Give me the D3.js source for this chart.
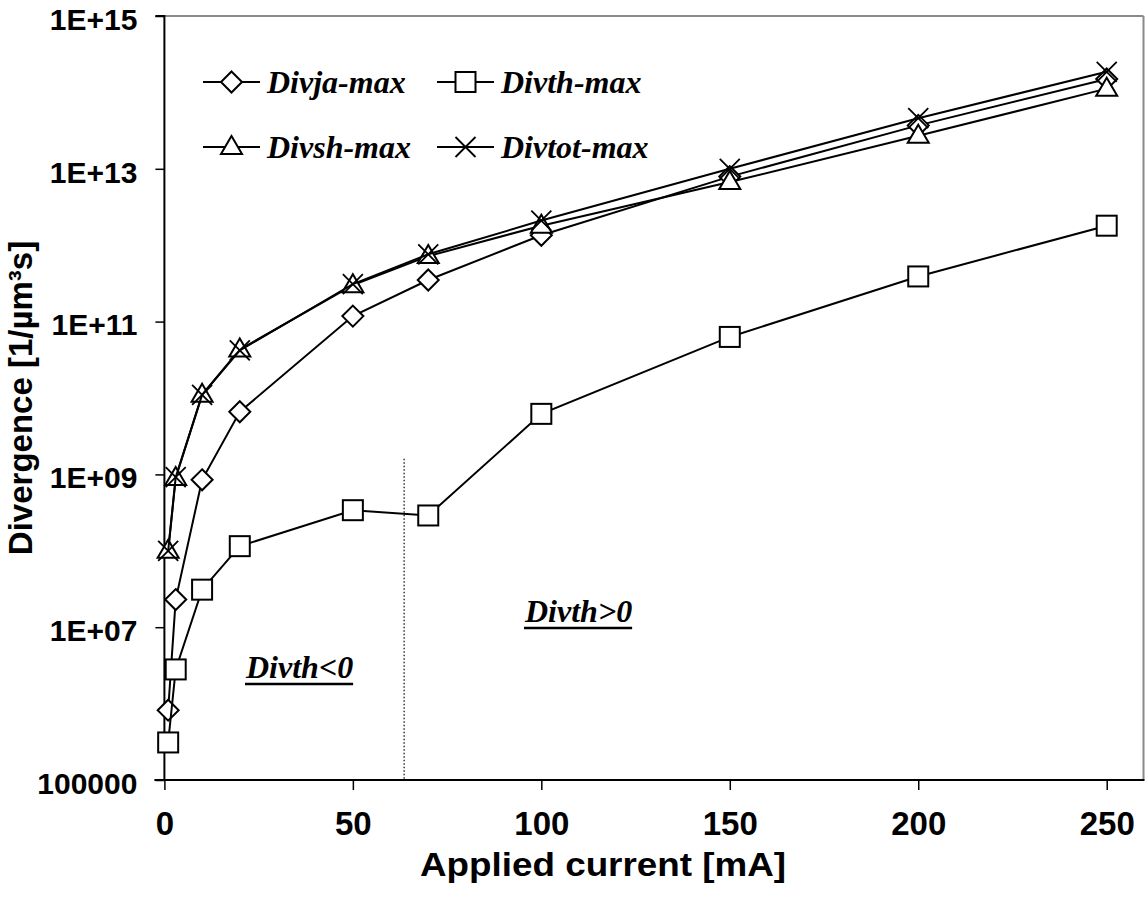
<!DOCTYPE html>
<html>
<head>
<meta charset="utf-8">
<script src="https://cdn.jsdelivr.net/npm/d3@7"></script>
<style>
  html, body { margin: 0; padding: 0; background: #fff; }
  svg { display: block; }
  .axis-text { font-family: "Liberation Sans", Arial, sans-serif; font-weight: bold; fill: #000; }
  .serif-text { font-family: "Liberation Serif", "Times New Roman", serif; font-weight: bold; font-style: italic; fill: #000; }
</style>
</head>
<body>
<script>
// Applied current (mA) at which each maximum divergence was computed
const current = [1, 3, 10, 20, 50, 70, 100, 150, 200, 250];

// Maximum divergence values, 1/(µm³·s)
const divJa  = [8.2e5, 2.3e7, 8.5e8, 6.6e9, 1.18e11, 3.5e11, 1.35e12, 7.9e12, 3.7e13, 1.5e14];
const divTh  = [3.1e5, 2.8e6, 3.1e7, 1.15e8, 3.4e8, 2.9e8, 6.2e9, 6.3e10, 3.9e11, 1.8e12];
const divSh  = [1.0e8, 9.0e8, 1.1e10, 4.3e10, 3.0e11, 7.2e11, 1.8e12, 6.7e12, 2.7e13, 1.12e14];
const divTot = [1.0e8, 9.2e8, 1.1e10, 4.2e10, 3.1e11, 7.6e11, 2.1e12, 1.0e13, 4.6e13, 1.86e14];

const seriesNames = ["Divja-max", "Divth-max", "Divsh-max", "Divtot-max"];
const seriesMarkers = ["diamond", "square", "triangle", "cross"];

const xTicks = [0, 50, 100, 150, 200, 250];
const yTicks = [1e5, 1e7, 1e9, 1e11, 1e13, 1e15];
const yTickLabels = ["100000", "1E+07", "1E+09", "1E+11", "1E+13", "1E+15"];

// Boundary between negative and positive thermal divergence
const signChangeCurrent = 63.6;
const signChangeTop = 1.6e9;

const W = 1145, H = 907;
const svg = d3.select("body").append("svg").attr("width", W).attr("height", H);

const x = d3.scaleLinear().domain([0, 260]).range([164.4, 1144.4]);
const y = d3.scaleLog().domain([1e5, 1e15]).range([780, 16]);

// Plot frame: grey top/right edges
svg.append("line").attr("x1", x(0)).attr("x2", 1143.5).attr("y1", y(1e15)).attr("y2", y(1e15))
  .attr("stroke", "#8a8a8a").attr("stroke-width", 2);
svg.append("line").attr("x1", 1143.5).attr("x2", 1143.5).attr("y1", y(1e15)).attr("y2", y(1e5))
  .attr("stroke", "#8a8a8a").attr("stroke-width", 2);

// Y axis
const yAxis = d3.axisLeft(y).tickValues(yTicks).tickSize(9).tickFormat((d, i) => yTickLabels[i]).tickPadding(18);
const gy = svg.append("g").attr("transform", `translate(${x(0)},0)`).call(yAxis);
gy.select(".domain").attr("stroke", "#000").attr("stroke-width", 2).attr("d", `M-9,${y(1e15)}H0V${y(1e5)}`);
gy.selectAll(".tick line").attr("stroke", "#000").attr("stroke-width", 1.5);
gy.selectAll(".tick text").attr("class", "axis-text").style("font-size", "30px")
  .attr("dy", "0.44em").attr("fill", "#000");

// X axis
const xAxis = d3.axisBottom(x).tickValues(xTicks).tickSize(10).tickFormat(d3.format("d")).tickPadding(22);
const gx = svg.append("g").attr("transform", `translate(0,${y(1e5)})`).call(xAxis);
gx.select(".domain").attr("stroke", "#000").attr("stroke-width", 2).attr("d", `M${x(0) - 10},0H1144.5`);
gx.selectAll(".tick line").attr("stroke", "#000").attr("stroke-width", 1.5);
gx.selectAll(".tick text").attr("class", "axis-text").style("font-size", "33px").attr("fill", "#000");

// Axis titles
svg.append("text").attr("class", "axis-text").style("font-size", "33px")
  .attr("x", 603).attr("y", 876).attr("text-anchor", "middle")
  .attr("textLength", 366).attr("lengthAdjust", "spacingAndGlyphs")
  .text("Applied current [mA]");
svg.append("text").attr("class", "axis-text").style("font-size", "33px")
  .attr("transform", "translate(32,398) rotate(-90)").attr("text-anchor", "middle").text("Divergence [1/µm³s]");

// Dotted separator
svg.append("line")
  .attr("x1", x(signChangeCurrent)).attr("x2", x(signChangeCurrent))
  .attr("y1", y(signChangeTop)).attr("y2", y(1e5))
  .attr("stroke", "#000").attr("stroke-width", 1.2).attr("stroke-dasharray", "1.5,2");

// Region annotations (underlined)
function underlinedLabel(tx, ty, label) {
  const t = svg.append("text").attr("class", "serif-text").style("font-size", "32px")
    .attr("x", tx).attr("y", ty).text(label);
  const bb = t.node().getBBox();
  svg.append("line").attr("x1", bb.x).attr("x2", bb.x + bb.width)
    .attr("y1", ty + 6).attr("y2", ty + 6).attr("stroke", "#000").attr("stroke-width", 2.5);
}
underlinedLabel(246, 678, "Divth<0");
underlinedLabel(525, 622, "Divth>0");

// Marker shapes
function drawMarker(g, type, cx, cy) {
  if (type === "diamond") {
    g.append("path").attr("d", `M${cx},${cy - 10.5}L${cx + 10.5},${cy}L${cx},${cy + 10.5}L${cx - 10.5},${cy}Z`)
      .attr("fill", "#fff").attr("stroke", "#000").attr("stroke-width", 2);
  } else if (type === "square") {
    g.append("rect").attr("x", cx - 10).attr("y", cy - 10).attr("width", 20).attr("height", 20)
      .attr("fill", "#fff").attr("stroke", "#000").attr("stroke-width", 2);
  } else if (type === "triangle") {
    g.append("path").attr("d", `M${cx},${cy - 11}L${cx + 10.5},${cy + 7}L${cx - 10.5},${cy + 7}Z`)
      .attr("fill", "#fff").attr("stroke", "#000").attr("stroke-width", 2);
  } else if (type === "cross") {
    g.append("path").attr("d", `M${cx - 10},${cy - 10}L${cx + 10},${cy + 10}M${cx - 10},${cy + 10}L${cx + 10},${cy - 10}`)
      .attr("fill", "none").attr("stroke", "#000").attr("stroke-width", 1.8);
  }
}

const allSeries = [divJa, divTh, divSh, divTot];
const line = d3.line().x((d, i) => x(current[i])).y(d => y(d));

allSeries.forEach((vals, si) => {
  const g = svg.append("g");
  g.append("path").datum(vals).attr("d", line)
    .attr("fill", "none").attr("stroke", "#000").attr("stroke-width", 2);
  vals.forEach((v, i) => drawMarker(g, seriesMarkers[si], x(current[i]), y(v)));
});

// Legend
const legendPos = [[203, 82], [437, 82], [203, 147], [437, 147]];
seriesNames.forEach((name, si) => {
  const [lx, ly] = legendPos[si];
  const g = svg.append("g");
  g.append("line").attr("x1", lx).attr("x2", lx + 57).attr("y1", ly).attr("y2", ly)
    .attr("stroke", "#000").attr("stroke-width", 2);
  drawMarker(g, seriesMarkers[si], lx + 28.5, ly);
  g.append("text").attr("class", "serif-text").style("font-size", "32px")
    .attr("x", lx + 64).attr("y", ly + 11).text(name);
});
</script>
</body>
</html>
